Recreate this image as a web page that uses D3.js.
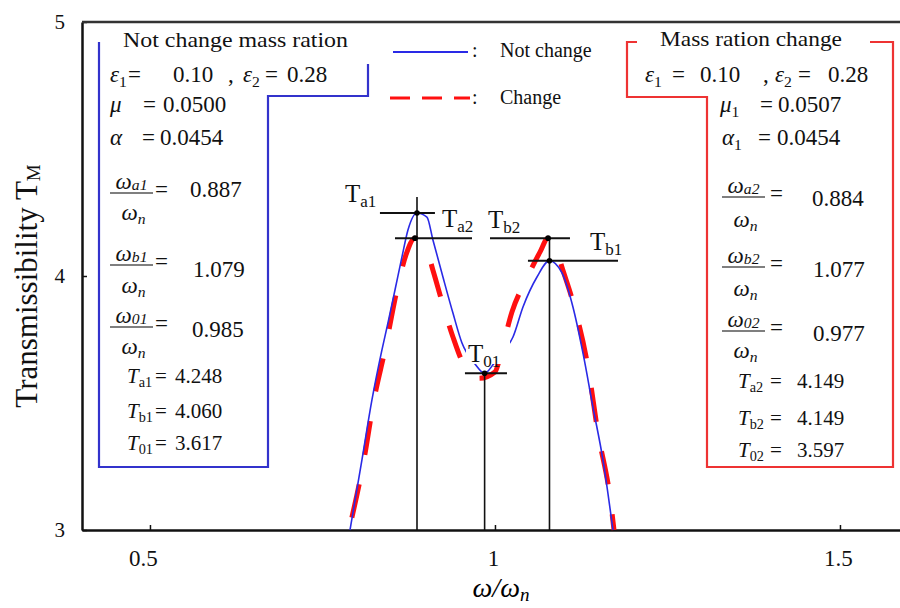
<!DOCTYPE html>
<html lang="en">
<head>
<meta charset="UTF-8">
<title>Transmissibility</title>
<script src="https://cdnjs.cloudflare.com/ajax/libs/d3/7.8.5/d3.min.js"></script>
<style>
    * { margin: 0; padding: 0; box-sizing: border-box; }
    body { background: #fff; }
    svg { display: block; }
    svg text { font-family: 'Liberation Serif', 'Times New Roman', serif; }
</style>
</head>
<body>
<div id="chart"></div>
<script>
// omega / omega_n  vs  transmissibility T_M
const blueW = [0.7899, 0.8072, 0.8217, 0.8362, 0.8449, 0.8551, 0.8652, 0.8739, 0.887, 0.9014, 0.9101, 0.9246, 0.9391, 0.9522, 0.971, 0.985, 1.000, 1.0145, 1.0261, 1.0406, 1.0609, 1.079, 1.0971, 1.113, 1.1275, 1.142, 1.1565, 1.171];
const blueT = [3.000, 3.276, 3.512, 3.709, 3.815, 3.945, 4.075, 4.181, 4.248, 4.232, 4.142, 3.996, 3.854, 3.736, 3.654, 3.617, 3.661, 3.709, 3.760, 3.878, 3.996, 4.060, 4.012, 3.878, 3.697, 3.484, 3.276, 3.000];
const redW = [0.7884, 0.8101, 0.8246, 0.8406, 0.858, 0.871, 0.884, 0.8986, 0.910, 0.9246, 0.9391, 0.9565, 0.977, 1.000, 1.0116, 1.0246, 1.0464, 1.0652, 1.077, 1.087, 1.097, 1.113, 1.1348, 1.1493, 1.1667, 1.1725];
const redT = [3.000, 3.276, 3.512, 3.709, 3.945, 4.083, 4.149, 4.122, 4.024, 3.886, 3.760, 3.642, 3.597, 3.622, 3.728, 3.858, 3.992, 4.094, 4.149, 4.122, 4.035, 3.898, 3.642, 3.382, 3.130, 3.000];

const xTicks = [0.5, 1, 1.5];
const yTicks = [3, 4, 5];

// fixed points
const pointNames = ['a1', 'a2', 'b2', 'b1', '01'];
const pointW = [0.887, 0.884, 1.077, 1.079, 0.985];
const pointT = [4.248, 4.149, 4.149, 4.060, 3.617];

// horizontal marker lines (from, to, level)
const hFrom = [0.8333, 0.8551, 0.9928, 1.0478, 0.9565];
const hTo = [0.9130, 0.9667, 1.1087, 1.1783, 1.0174];
const hLevel = [4.248, 4.149, 4.149, 4.060, 3.617];

// vertical marker lines
const vW = [0.887, 0.985, 1.079];
const vTop = [4.311, 3.617, 4.149];

const W = 900, H = 608;
const FONT = "'Liberation Serif', 'Times New Roman', serif";
const svg = d3.select('#chart').append('svg')
    .attr('width', W)
    .attr('height', H);

const x = d3.scaleLinear().domain([0.4015, 1.587]).range([82, 900]);
const y = d3.scaleLinear().domain([3, 5]).range([530, 22]);

// rich text: parts = [text, flags ('i' italic, 's' subscript), x]
function rich(x0, y0, size, parts, anchor, subDy) {
    const t = svg.append('text').attr('x', x0).attr('y', y0)
        .attr('font-size', size).attr('font-family', FONT).attr('fill', '#111');
    if (anchor) t.attr('text-anchor', anchor);
    const sd = subDy == null ? size * 0.2 : subDy;
    let shift = 0;
    parts.forEach(p => {
        const [str, f = '', px] = p;
        const s = t.append('tspan').text(str);
        const sub = f.includes('s');
        const want = sub ? sd : 0;
        if (px != null) s.attr('x', px);
        if (want !== shift) { s.attr('dy', want - shift); shift = want; }
        if (sub) s.attr('font-size', size * 0.68);
        if (f.includes('i')) s.attr('font-style', 'italic');
    });
    return t;
}

function frac(x0, barY, sub, denY, size) {
    const w = 43;
    rich(x0 + w / 2, barY - 4, size, [['ω', 'i'], [sub, 'is']], 'middle', 1);
    svg.append('line')
        .attr('x1', x0).attr('x2', x0 + w)
        .attr('y1', barY).attr('y2', barY)
        .attr('stroke', '#000').attr('stroke-width', 1.2);
    rich(x0 + w / 2 + 2, denY, size, [['ω', 'i'], ['n', 'is']], 'middle', 4);
}

// axes
const xAxis = d3.axisBottom(x).tickValues(xTicks).tickSizeInner(-5).tickSizeOuter(0).tickPadding(20)
    .tickFormat(d3.format('~g'));
const yAxis = d3.axisLeft(y).tickValues(yTicks).tickSizeInner(-5).tickSizeOuter(0).tickPadding(17)
    .tickFormat(d3.format('d'));

const gx = svg.append('g').attr('transform', 'translate(0,530)').call(xAxis);
const gy = svg.append('g').attr('transform', 'translate(82,0)').call(yAxis);
[gx, gy].forEach(g => {
    g.attr('font-family', FONT);
    g.select('.domain').attr('stroke', '#111').attr('stroke-width', 2.5);
    g.selectAll('.tick line').attr('stroke', '#111').attr('stroke-width', 1.5);
    g.selectAll('.tick text').attr('fill', '#111');
});
gx.selectAll('.tick text').attr('font-size', 23).attr('dx', (d, i) => i === 0 ? -7 : -2);
gy.selectAll('.tick text').attr('font-size', 21);

// top frame line
svg.append('line')
    .attr('x1', x.range()[0]).attr('x2', x.range()[1])
    .attr('y1', y(5)).attr('y2', y(5))
    .attr('stroke', '#333').attr('stroke-width', 2.5);

// axis titles
const yl = svg.append('text')
    .attr('transform', 'translate(37,286) rotate(-90)')
    .attr('text-anchor', 'middle')
    .attr('font-family', FONT)
    .attr('font-size', 31)
    .attr('fill', '#111');
yl.append('tspan').text('Transmissibility T');
yl.append('tspan').text('M').attr('font-size', 19).attr('dy', 3);

const xl = svg.append('text')
    .attr('x', 501).attr('y', 597)
    .attr('text-anchor', 'middle')
    .attr('font-family', FONT)
    .attr('font-size', 28)
    .attr('font-style', 'italic');
xl.append('tspan').text('ω/ω');
xl.append('tspan').text('n').attr('font-size', 19).attr('dy', 4);

// curves
const line = d3.line()
    .x(d => x(d[0]))
    .y(d => y(d[1]))
    .curve(d3.curveMonotoneX);

svg.append('path')
    .datum(d3.zip(redW, redT))
    .attr('d', line)
    .attr('fill', 'none')
    .attr('stroke', '#ff1010')
    .attr('stroke-width', 5)
    .attr('stroke-dasharray', '34,30')
    .attr('stroke-dashoffset', 51);

svg.append('path')
    .datum(d3.zip(blueW, blueT))
    .attr('d', line)
    .attr('fill', 'none')
    .attr('stroke', '#2a2ae6')
    .attr('stroke-width', 1.6);

// label background for T01 hides the curves under it
svg.append('rect')
    .attr('x', 466).attr('y', 333).attr('width', 44).attr('height', 31)
    .attr('fill', '#fff');

// marker lines
svg.selectAll('.hline')
    .data(d3.range(hFrom.length))
    .enter().append('line')
    .attr('class', 'hline')
    .attr('x1', i => x(hFrom[i])).attr('x2', i => x(hTo[i]))
    .attr('y1', i => y(hLevel[i])).attr('y2', i => y(hLevel[i]))
    .attr('stroke', '#111').attr('stroke-width', 2);

svg.selectAll('.vline')
    .data(d3.range(vW.length))
    .enter().append('line')
    .attr('class', 'vline')
    .attr('x1', i => x(vW[i])).attr('x2', i => x(vW[i]))
    .attr('y1', i => y(vTop[i])).attr('y2', y(3))
    .attr('stroke', '#111').attr('stroke-width', 1.6);

svg.selectAll('.pt')
    .data(d3.range(pointW.length))
    .enter().append('circle')
    .attr('class', 'pt')
    .attr('cx', i => x(pointW[i])).attr('cy', i => y(pointT[i]))
    .attr('r', 2.8)
    .attr('fill', '#000');

// point labels
const lblPos = [[345, 202], [442, 227], [488, 228], [590, 250], [468, 362]];
pointNames.forEach((n, i) => {
    rich(lblPos[i][0], lblPos[i][1], 25, [['T'], [n, 's']], null, 5);
});

// legend
svg.append('line').attr('x1', 393).attr('x2', 468).attr('y1', 52).attr('y2', 52)
    .attr('stroke', '#2a2ae6').attr('stroke-width', 2);
svg.append('line').attr('x1', 390).attr('x2', 470).attr('y1', 98).attr('y2', 98)
    .attr('stroke', '#ff1010').attr('stroke-width', 3).attr('stroke-dasharray', '20,12');
rich(472, 57, 20, [[':']]);
rich(472, 104, 20, [[':']]);
rich(500, 57, 20, [['Not change']]);
rich(500, 104, 20, [['Change']]);

// parameter boxes
svg.append('path')
    .attr('d', 'M368,64 L368,96 L268,96 L268,467 L99,467 L99,42')
    .attr('fill', 'none').attr('stroke', '#3333cc').attr('stroke-width', 2.2);
svg.append('path')
    .attr('d', 'M637,42 L627,42 L627,97 L707,97 L707,467 L893,467 L893,42 L870,42')
    .attr('fill', 'none').attr('stroke', '#ee3333').attr('stroke-width', 2.2);

rich(123, 47, 22, [['Not change mass ration']]).attr('textLength', 225).attr('lengthAdjust', 'spacingAndGlyphs');
rich(660, 46, 22, [['Mass ration change']]).attr('textLength', 182).attr('lengthAdjust', 'spacingAndGlyphs');

const M = 23;
// not change
rich(110, 82, M, [['ε', 'i'], ['1', 's'], ['=', '', 128], ['0.10', '', 173], [',', '', 228], ['ε', 'i', 243], ['2', 's'], ['=', '', 265], ['0.28', '', 287]]);
rich(110, 112, M, [['μ', 'i'], ['=', '', 143], ['0.0500', '', 163]]);
rich(110, 145, M, [['α', 'i'], ['=', '', 142], ['0.0454', '', 160]]);
frac(110, 193, 'a1', 220, M);
rich(155, 197, M, [['='], ['0.887', '', 190]]);
frac(110, 265, 'b1', 293, M);
rich(155, 269, M, [['=']]);
rich(193, 277, M, [['1.079']]);
frac(110, 327, '01', 354, M);
rich(155, 331, M, [['=']]);
rich(192, 337, M, [['0.985']]);
rich(127, 383, 21, [['T', 'i'], ['a1', 's'], ['=', '', 155], ['4.248', '', 175]]);
rich(127, 418, 21, [['T', 'i'], ['b1', 's'], ['=', '', 155], ['4.060', '', 175]]);
rich(127, 450, 21, [['T', 'i'], ['01', 's'], ['=', '', 155], ['3.617', '', 175]]);

// mass ration change
rich(645, 82, M, [['ε', 'i'], ['1', 's'], ['=', '', 672], ['0.10', '', 700], [',', '', 763], ['ε', 'i', 775], ['2', 's'], ['=', '', 798], ['0.28', '', 828]]);
rich(720, 112, M, [['μ', 'i'], ['1', 's'], ['=', '', 760], ['0.0507', '', 778]]);
rich(722, 145, M, [['α', 'i'], ['1', 's'], ['=', '', 758], ['0.0454', '', 777]]);
frac(722, 197, 'a2', 227, M);
rich(770, 201, M, [['=']]);
rich(812, 206, M, [['0.884']]);
frac(722, 267, 'b2', 296, M);
rich(770, 271, M, [['=']]);
rich(813, 277, M, [['1.077']]);
frac(722, 331, '02', 358, M);
rich(770, 335, M, [['=']]);
rich(813, 341, M, [['0.977']]);
rich(738, 388, 21, [['T', 'i'], ['a2', 's'], ['=', '', 770], ['4.149', '', 797]]);
rich(738, 425, 21, [['T', 'i'], ['b2', 's'], ['=', '', 770], ['4.149', '', 797]]);
rich(738, 457, 21, [['T', 'i'], ['02', 's'], ['=', '', 770], ['3.597', '', 797]]);
</script>
</body>
</html>
